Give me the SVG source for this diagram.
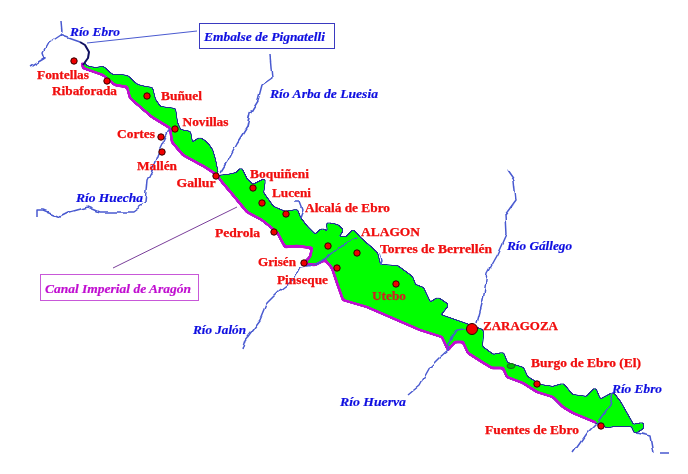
<svg xmlns="http://www.w3.org/2000/svg" width="688" height="474" viewBox="0 0 688 474">
<style>
.t{font-family:"Liberation Serif",serif;font-weight:bold;font-size:13.5px;fill:#f00a0a;stroke:#f00a0a;stroke-width:.25px;filter:url(#soft)}
.b{font-family:"Liberation Serif",serif;font-weight:bold;font-style:italic;font-size:13.5px;fill:#1010e0;stroke:#1010e0;stroke-width:.2px;filter:url(#soft)}
.d{fill:#f00000;stroke:#300000;stroke-width:1}
.r{fill:none;stroke:#4a5ad0;stroke-width:1.500;stroke-linejoin:round}
</style>
<defs>
<filter id="soft" x="-5%" y="-20%" width="110%" height="140%"><feGaussianBlur stdDeviation="0.3"/></filter>
<filter id="land" filterUnits="userSpaceOnUse" x="0" y="0" width="688" height="474">
<feGaussianBlur stdDeviation="1.2" result="b"/>
<feComponentTransfer in="b" result="a"><feFuncA type="linear" slope="8" intercept="-3.5"/></feComponentTransfer>
<feMorphology in="a" operator="dilate" radius="1" result="m"/>
<feFlood flood-color="#203090"/>
<feComposite in2="m" operator="in" result="o"/>
<feMerge><feMergeNode in="o"/><feMergeNode in="a"/></feMerge>
</filter>
<filter id="line" filterUnits="userSpaceOnUse" x="0" y="0" width="688" height="474">
<feGaussianBlur stdDeviation="0.8"/>
<feComponentTransfer><feFuncA type="linear" slope="6" intercept="-2.5"/></feComponentTransfer>
</filter>
<filter id="wig" filterUnits="userSpaceOnUse" x="0" y="0" width="688" height="474">
<feTurbulence type="fractalNoise" baseFrequency="0.1" numOctaves="1" seed="4" result="n"/>
<feDisplacementMap in="SourceGraphic" in2="n" scale="6" xChannelSelector="R" yChannelSelector="G" result="w"/>
<feGaussianBlur in="w" stdDeviation="0.3"/>
</filter>
</defs>
<rect width="688" height="474" fill="#fff"/>
<path id="valley" fill="#00ff00" filter="url(#land)" d="M82 62L88 67L96 68L103 67L112 75L120 75L127 76L137 85L145 87L152 88L155 100L160 107L175 109L177 123L180 130L190 132L192 143L200 138L207 143L212 150L215 160L217 170L217 176L228 175L237 173L241 168L247 180L253 185L265 179L263 193L273 207L285 212L297 210L300 218L307 227L315 235L322 229L328 232L327 223L337 225L343 230L338 237L347 237L353 230L360 238L377 253L380 265L397 266L412 277L415 285L423 288L430 303L438 298L448 305L440 315L463 323L482 330L483 332L482 347L493 355L503 353L507 363L523 368L527 377L540 385L553 387L563 384L572 395L587 397L595 388L600 400L613 393L620 402L633 425L643 423L643 428L635 433L632 426L615 426L607 427L597 423L573 413L563 407L553 397L537 392L523 383L507 377L503 368L492 368L482 362L468 353L463 342L455 342L448 350L442 337L420 330L397 320L367 307L343 300L337 283L332 268L325 260L315 265L303 264L310 257L312 248L297 246L285 247L277 232L262 220L247 212L233 195L222 182L217 175L205 167L183 155L172 142L170 128L152 117L130 98L127 87L115 85L103 75L83 68Z"/>
<path id="canal" fill="none" stroke="#c010d0" stroke-width="2.800" stroke-linejoin="round" filter="url(#line)" d="M82 62L83 68L103 75L115 85L127 87L130 98L152 117L170 128L172 142L183 155L205 167L217 175L222 182L233 195L247 212L262 220L277 232L285 247L297 246L312 248L310 257L303 264L315 265L325 260L332 268L337 283L343 300L367 307L397 320L420 330L442 337L448 350L455 342L463 342L468 353L482 362L492 368L503 368L507 377L523 383L537 392L553 397L563 407L573 413L597 423"/>
<g id="rivers">
<g filter="url(#wig)">
<path class="r" d="M61 22L62 33L60 35L80 42M60 35L48 43L43 52L45 58L30 67"/>
<path class="r" d="M270 55L272 78L262 85L258 100L250 113L247 127L237 143L228 160L220 173"/>
<path class="r" d="M170 128L158 153L152 170L147 180L145 203L133 212L120 212L100 212L88 207L70 212L60 217L43 210L37 210L37 216"/>
<path class="r" d="M242 350L245 340L260 320L267 303L280 290L293 280L300 267L315 265L327 258L342 245L357 238"/>
<path class="r" d="M295 202L300 202L303 210L300 218"/>
<path class="r" d="M380 253L382 260L380 265"/>
<path class="r" d="M507 170L514 180L516 200L505 215L506 235L497 255L487 273L483 300L477 323"/>
<path class="r" d="M408 395L420 385L430 367L440 357L448 350L450 340L457 330L470 328"/>
<path class="r" d="M573 453L587 433L597 423L610 405L613 393"/>
<path class="r" d="M637 433L650 436L653 453M660 453L670 453"/>
</g>
<path fill="none" stroke="#101060" stroke-width="2" stroke-linejoin="round" d="M80 42L85 45L89 52L88 58L83 65"/>
<ellipse cx="511" cy="366" rx="4" ry="2.500" fill="#00c000" stroke="#206020"/>
</g>
<g id="connectors">
<path d="M87 43L197 31" fill="none" stroke="#4a5ad0"/>
<path d="M237 207L113 268" fill="none" stroke="#7a3f9a"/>
</g>
<g id="embalse"><rect x="199.500" y="23.500" width="135" height="25" fill="#fff" stroke="#3a3ac0"/><text class="b" x="204" y="41" textLength="121" lengthAdjust="spacingAndGlyphs">Embalse de Pignatelli</text></g>
<g id="canal-label"><rect x="40.500" y="274.500" width="158" height="26" fill="#fff" stroke="#c858d8"/><text class="b" style="fill:#c010d0;stroke:#c010d0" x="45" y="293" textLength="146" lengthAdjust="spacingAndGlyphs">Canal Imperial de Aragón</text></g>
<g id="rio-ebro-1"><text class="b" x="70" y="36" textLength="50" lengthAdjust="spacingAndGlyphs">Río Ebro</text></g>
<g id="rio-arba"><text class="b" x="270" y="98" textLength="108" lengthAdjust="spacingAndGlyphs">Río Arba de Luesia</text></g>
<g id="rio-huecha"><text class="b" x="76" y="202" textLength="67" lengthAdjust="spacingAndGlyphs">Río Huecha</text></g>
<g id="rio-gallego"><text class="b" x="507" y="250" textLength="65" lengthAdjust="spacingAndGlyphs">Río Gállego</text></g>
<g id="rio-jalon"><text class="b" x="193" y="334" textLength="53" lengthAdjust="spacingAndGlyphs">Río Jalón</text></g>
<g id="rio-huerva"><text class="b" x="340" y="406" textLength="66" lengthAdjust="spacingAndGlyphs">Río Huerva</text></g>
<g id="rio-ebro-2"><text class="b" x="612" y="393" textLength="50" lengthAdjust="spacingAndGlyphs">Río Ebro</text></g>
<g id="fontellas"><circle class="d" cx="74" cy="61" r="3.200"/><text class="t" x="37" y="79" textLength="52" lengthAdjust="spacingAndGlyphs">Fontellas</text></g>
<g id="ribaforada"><circle class="d" cx="107" cy="81" r="3.200"/><text class="t" x="52" y="95" textLength="65" lengthAdjust="spacingAndGlyphs">Ribaforada</text></g>
<g id="bunuel"><circle class="d" cx="147" cy="96" r="3.200"/><text class="t" x="161" y="100" textLength="41" lengthAdjust="spacingAndGlyphs">Buñuel</text></g>
<g id="novillas"><circle class="d" cx="175" cy="129" r="3.200"/><text class="t" x="182.500" y="126" textLength="46" lengthAdjust="spacingAndGlyphs">Novillas</text></g>
<g id="cortes"><circle class="d" cx="161" cy="137" r="3.200"/><text class="t" x="117" y="138" textLength="38" lengthAdjust="spacingAndGlyphs">Cortes</text></g>
<g id="mallen"><circle class="d" cx="162" cy="152" r="3.200"/><text class="t" x="137" y="170" textLength="40" lengthAdjust="spacingAndGlyphs">Mallén</text></g>
<g id="gallur"><circle class="d" cx="216" cy="176" r="3.200"/><text class="t" x="176.500" y="187" textLength="39" lengthAdjust="spacingAndGlyphs">Gallur</text></g>
<g id="boquineni"><circle class="d" cx="253" cy="188" r="3.200"/><text class="t" x="250" y="178" textLength="59" lengthAdjust="spacingAndGlyphs">Boquiñeni</text></g>
<g id="luceni"><circle class="d" cx="262" cy="203" r="3.200"/><text class="t" x="272" y="197" textLength="39" lengthAdjust="spacingAndGlyphs">Luceni</text></g>
<g id="alcala"><circle class="d" cx="286" cy="214" r="3.200"/><text class="t" x="305" y="212" textLength="85" lengthAdjust="spacingAndGlyphs">Alcalá de Ebro</text></g>
<g id="pedrola"><circle class="d" cx="274" cy="232" r="3.200"/><text class="t" x="215" y="237" textLength="45" lengthAdjust="spacingAndGlyphs">Pedrola</text></g>
<g id="alagon"><circle class="d" cx="328" cy="246" r="3.200"/><text class="t" x="361" y="236" textLength="59" lengthAdjust="spacingAndGlyphs">ALAGON</text></g>
<g id="torres"><circle class="d" cx="357" cy="253" r="3.200"/><text class="t" x="380" y="253" textLength="112" lengthAdjust="spacingAndGlyphs">Torres de Berrellén</text></g>
<g id="grisen"><circle class="d" cx="304" cy="263" r="3.200"/><text class="t" x="258" y="266" textLength="38" lengthAdjust="spacingAndGlyphs">Grisén</text></g>
<g id="pinseque"><circle class="d" cx="337" cy="268" r="3.200"/><text class="t" x="277" y="284" textLength="51" lengthAdjust="spacingAndGlyphs">Pinseque</text></g>
<g id="utebo"><circle class="d" cx="396" cy="284" r="3.200"/><text class="t" style="fill:#d02020;stroke:#d02020" x="372" y="300" textLength="34" lengthAdjust="spacingAndGlyphs">Utebo</text></g>
<g id="zaragoza"><circle class="d" cx="472" cy="329" r="5.500" stroke-width="1.500"/><text class="t" x="483" y="330" textLength="75" lengthAdjust="spacingAndGlyphs">ZARAGOZA</text></g>
<g id="burgo"><circle class="d" cx="537" cy="384" r="3.200"/><text class="t" x="531" y="367" textLength="110" lengthAdjust="spacingAndGlyphs">Burgo de Ebro (El)</text></g>
<g id="fuentes"><circle class="d" cx="601" cy="426" r="3.200"/><text class="t" x="485" y="434" textLength="94" lengthAdjust="spacingAndGlyphs">Fuentes de Ebro</text></g>
</svg>
